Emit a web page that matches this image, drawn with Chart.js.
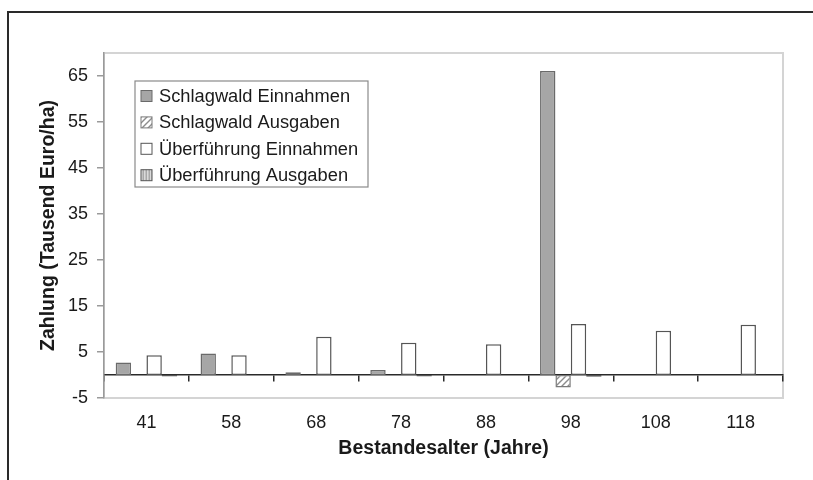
<!DOCTYPE html>
<html>
<head>
<meta charset="utf-8">
<script src="https://cdn.jsdelivr.net/npm/chart.js@4/dist/chart.umd.min.js"></script>
<style>
  html, body { margin: 0; padding: 0; background: #fff; overflow: hidden; }
  #wrap { width: 813px; height: 480px; }
</style>
</head>
<body>
<div id="wrap"><canvas id="chart" width="813" height="480"></canvas></div>
<script>
// Data (Tausend Euro/ha)
const ageLabels = ['41', '58', '68', '78', '88', '98', '108', '118'];
const schlagEin = [2.7, 4.7, 0.6, 1.1, null, 66.1, null, null];
const schlagAus = [null, null, null, null, null, -2.7, null, null];
const uebEin = [4.3, 4.3, 8.3, 7.0, 6.7, 11.1, 9.6, 10.9];
const uebAus = [-0.35, null, null, -0.35, null, -0.4, null, null];
const yTicks = [-5, 5, 15, 25, 35, 45, 55, 65];

function makePattern(kind) {
  const c = document.createElement('canvas');
  c.width = 6;
  c.height = 6;
  const g = c.getContext('2d');
  if (kind === 'diag') {
    g.fillStyle = '#ffffff';
    g.fillRect(0, 0, 6, 6);
    g.strokeStyle = '#8c8c8c';
    g.lineWidth = 1.4;
    g.beginPath();
    g.moveTo(0, 6); g.lineTo(6, 0);
    g.moveTo(-3, 3); g.lineTo(3, -3);
    g.moveTo(3, 9); g.lineTo(9, 3);
    g.stroke();
  } else {
    g.fillStyle = '#a8a8a8';
    g.fillRect(0, 0, 6, 6);
    g.fillStyle = '#dadada';
    g.fillRect(0, 0, 1.5, 6);
    g.fillRect(3, 0, 1.5, 6);
  }
  return g.createPattern(c, 'repeat');
}

const font = { family: '"Liberation Sans", Arial, sans-serif', size: 18, lineHeight: 1.2 };
const boldFont = { family: '"Liberation Sans", Arial, sans-serif', size: 19.5, weight: 'bold', lineHeight: 1.2 };

// outer frame + light plot border, drawn under the axes
const framePlugin = {
  id: 'frame',
  beforeDraw(chart) {
    const { ctx, chartArea: a } = chart;
    ctx.save();
    ctx.strokeStyle = '#2a2a2a';
    ctx.lineWidth = 2;
    ctx.beginPath();
    ctx.moveTo(8, 490);
    ctx.lineTo(8, 12);
    ctx.lineTo(830, 12);
    ctx.stroke();
    ctx.strokeStyle = '#d4d4d4';
    ctx.lineWidth = 2;
    ctx.strokeRect(a.left, a.top, a.right - a.left, a.bottom - a.top);
    ctx.restore();
  },
};

// boxed legend inside the plot, top-left
const boxLegend = {
  id: 'boxLegend',
  afterDraw(chart) {
    const { ctx, chartArea: a } = chart;
    const x = a.left + 31, y = a.top + 28, w = 233, h = 106;
    const rowH = 26.4;
    ctx.save();
    ctx.fillStyle = '#fff';
    ctx.fillRect(x, y, w, h);
    ctx.strokeStyle = '#8a8a8a';
    ctx.lineWidth = 1.2;
    ctx.strokeRect(x, y, w, h);
    ctx.font = '18.3px "Liberation Sans", Arial, sans-serif';
    ctx.textBaseline = 'middle';
    chart.data.datasets.forEach((ds, i) => {
      const cy = y + 15 + i * rowH;
      ctx.fillStyle = ds.backgroundColor;
      ctx.fillRect(x + 6, cy - 5.5, 11, 11);
      ctx.strokeStyle = ds.borderColor;
      ctx.lineWidth = 1;
      ctx.strokeRect(x + 6, cy - 5.5, 11, 11);
      ctx.fillStyle = '#1a1a1a';
      ctx.fillText(ds.label, x + 24, cy + 1);
    });
    ctx.restore();
  },
};

new Chart(document.getElementById('chart'), {
  type: 'bar',
  data: {
    labels: ageLabels,
    datasets: [
      { label: 'Schlagwald Einnahmen', data: schlagEin, backgroundColor: '#a6a6a6', borderColor: '#6a6a6a' },
      { label: 'Schlagwald Ausgaben', data: schlagAus, backgroundColor: makePattern('diag'), borderColor: '#7a7a7a' },
      { label: 'Überführung Einnahmen', data: uebEin, backgroundColor: '#ffffff', borderColor: '#555555' },
      { label: 'Überführung Ausgaben', data: uebAus, backgroundColor: makePattern('vert'), borderColor: '#555555' },
    ],
  },
  options: {
    responsive: false,
    animation: false,
    devicePixelRatio: 1,
    layout: { padding: { left: 0, right: 30, top: 53, bottom: 0 } },
    datasets: {
      bar: { categoryPercentage: 0.725, barPercentage: 1.0, borderWidth: 1.5, borderSkipped: false },
    },
    scales: {
      x: {
        grid: { display: false },
        border: { display: false },
        ticks: { font, color: '#1a1a1a', padding: 6, maxRotation: 0 },
        title: { display: true, text: 'Bestandesalter (Jahre)', font: boldFont, color: '#1a1a1a', padding: { top: 0, bottom: 20 } },
        afterFit: (s) => { s.height = 82; },
      },
      x0: {
        type: 'category',
        position: { y: 0 },
        grid: { drawOnChartArea: false, color: '#2a2a2a', lineWidth: 1.5, tickLength: 6, offset: true },
        border: { color: '#2a2a2a', width: 1.5 },
        ticks: { display: false },
      },
      y: {
        min: -5,
        max: 70,
        afterBuildTicks: (s) => { s.ticks = yTicks.map((v) => ({ value: v })); },
        grid: { drawOnChartArea: false, color: '#9a9a9a', lineWidth: 1.5, tickLength: 7 },
        border: { color: '#9a9a9a', width: 1.5 },
        ticks: { font, color: '#1a1a1a', padding: 9 },
        title: { display: true, text: 'Zahlung (Tausend Euro/ha)', font: boldFont, color: '#1a1a1a', padding: { top: 37, bottom: 0 } },
        afterFit: (s) => { s.width = 104; },
      },
    },
    plugins: {
      legend: { display: false },
      tooltip: { enabled: false },
    },
  },
  plugins: [framePlugin, boxLegend],
});
</script>
</body>
</html>
